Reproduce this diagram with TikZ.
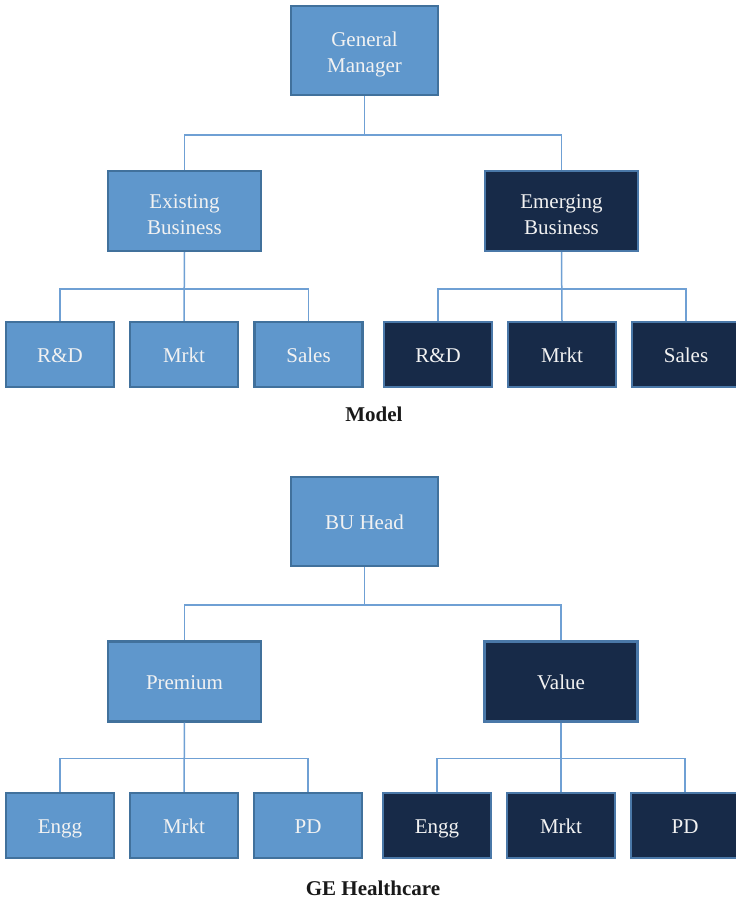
\documentclass[tikz,border=0pt]{standalone}
\usepackage{fontspec}
\setmainfont{Liberation Serif}
\definecolor{lightfill}{HTML}{5F97CC}
\definecolor{lightedge}{HTML}{41719C}
\definecolor{darkfill}{HTML}{172A48}
\definecolor{darkedge}{HTML}{4A78A8}
\definecolor{wire}{HTML}{6FA0D4}
\definecolor{boxtext}{HTML}{F2F2F2}
% fixed strut so single-line labels share one baseline
\newcommand{\boxstrut}{\vrule width 0pt height 20pt depth 4pt\relax}
\tikzset{
  boxlabel/.style={text=boxtext, font=\fontsize{21}{26}\selectfont,
    align=center, inner sep=0pt},
  unit/.style={rectangle, line width=2.2pt, boxlabel,
    execute at begin node=\boxstrut, execute at end node=\boxstrut},
  lightunit/.style={unit, fill=lightfill, draw=lightedge},
  darkunit/.style={unit, fill=darkfill, draw=darkedge},
  head/.style={minimum width=147pt, minimum height=89pt},
  mid/.style={minimum width=153pt, minimum height=80pt},
  leaf/.style={minimum width=108pt, minimum height=65pt},
  link/.style={draw=wire, line width=1.5pt},
  caption/.style={anchor=base, font=\bfseries\fontsize{21}{24}\selectfont, text=black!90}
}
\begin{document}
\begin{tikzpicture}[x=1pt, y=-1pt]
\useasboundingbox (0,0) rectangle (736,900);
\fill[white] (0,0) rectangle (736,900);

% ---- upper chart ----
\node[lightunit, head] (gm) at (364.5,50.5) {};
\node[boxlabel] (gmt) at ([yshift=-4pt]gm.center) {General\\Manager};
\node[lightunit, mid] (eb) at (184.5,211) {};
\node[boxlabel] (ebt) at ([yshift=-4pt]eb.center) {Existing\\Business};
\node[darkunit, mid] (mb) at (561.5,211) {};
\node[boxlabel] (mbt) at ([yshift=-4pt]mb.center) {Emerging\\Business};
\node[lightunit, leaf] (ea) at (60,354.5) {R\&D};
\node[lightunit, leaf] (eb2) at (184,354.5) {Mrkt};
\node[lightunit, leaf] (ec) at (308.5,354.5) {Sales};
\node[darkunit, leaf] (ma) at (438,354.5) {R\&D};
\node[darkunit, leaf] (mb2) at (562,354.5) {Mrkt};
\node[darkunit, leaf] (mc) at (686,354.5) {Sales};
\node[caption] (cap1) at (374,421) {Model};

\draw[link] (gm.south) -- ++(0,39) -| (eb.north);
\draw[link] (gm.south) ++(0,39) -| (mb.north);
\draw[link] (eb.south) -- ++(0,37) -| (ea.north);
\draw[link] (eb.south) -- (eb2.north);
\draw[link] (eb.south) ++(0,37) -| (ec.north);
\draw[link] (mb.south) -- ++(0,37) -| (ma.north);
\draw[link] (mb.south) -- (mb2.north);
\draw[link] (mb.south) ++(0,37) -| (mc.north);

% ---- lower chart ----
\node[lightunit, head] (bu) at (364.5,521.5) {BU Head};
\node[lightunit, mid] (pr) at (184.5,681.5) {Premium};
\node[darkunit, mid] (va) at (561,681.5) {Value};
\node[lightunit, leaf] (pa) at (60,825.5) {Engg};
\node[lightunit, leaf] (pb) at (184,825.5) {Mrkt};
\node[lightunit, leaf] (pc) at (308,825.5) {PD};
\node[darkunit, leaf] (vx) at (437,825.5) {Engg};
\node[darkunit, leaf] (vy) at (561,825.5) {Mrkt};
\node[darkunit, leaf] (vz) at (685,825.5) {PD};
\node[caption] (cap2) at (373,895) {GE Healthcare};

\draw[link] (bu.south) -- ++(0,38) -| (pr.north);
\draw[link] (bu.south) ++(0,38) -| (va.north);
\draw[link] (pr.south) -- ++(0,36) -| (pa.north);
\draw[link] (pr.south) -- (pb.north);
\draw[link] (pr.south) ++(0,36) -| (pc.north);
\draw[link] (va.south) -- ++(0,36) -| (vx.north);
\draw[link] (va.south) -- (vy.north);
\draw[link] (va.south) ++(0,36) -| (vz.north);
\end{tikzpicture}
\end{document}
